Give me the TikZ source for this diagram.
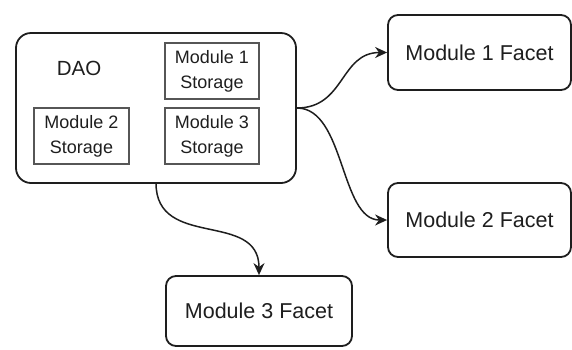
\documentclass[tikz,border=0pt]{standalone}
\usepackage{fontspec}
\setmainfont{Liberation Sans}
\usetikzlibrary{arrows.meta}
\definecolor{ink}{HTML}{1E1E1E}
\tikzset{
  bigbox/.style={draw=ink, line width=1.8pt, rounded corners=10pt, minimum width=183pt, minimum height=75pt, font=\fontsize{21.5}{24}\selectfont, text=ink},
  storebox/.style={draw=ink!75, line width=1.2pt, minimum width=94pt, minimum height=56pt, align=center, font=\fontsize{18}{25}\selectfont, text=ink},
  conn/.style={draw=ink, line width=1.5pt, -{Stealth[length=12pt,width=11pt]}}
}
\begin{document}
\begin{tikzpicture}[x=1pt,y=-1pt]
\useasboundingbox (0,0) rectangle (572,349);
\node[draw=ink, line width=1.8pt, rounded corners=15pt, minimum width=280pt, minimum height=150pt] (dao) at (156,108) {};
\node[font=\fontsize{20.5}{24}\selectfont, text=ink] (daolbl) at (79,68) {DAO};
\node[storebox] (s1) at (212,71) {Module 1\\Storage};
\node[storebox, minimum width=95pt] (s2) at (81.5,136) {Module 2\\Storage};
\node[storebox] (s3) at (212,136) {Module 3\\Storage};
\node[bigbox] (f1) at (479.5,52.5) {Module 1 Facet};
\node[bigbox, minimum height=74pt] (f2) at (479.5,220) {Module 2 Facet};
\node[bigbox, minimum width=186pt, minimum height=70pt] (f3) at (259,311) {Module 3 Facet};
\coordinate (d3) at (156,183);
\draw[conn] (dao.east) .. controls (345,108) and (340,52.5) .. (f1.west);
\draw[conn] (dao.east) .. controls (345,108) and (340,220) .. (f2.west);
\draw[conn] (d3) .. controls (156,250) and (259,210) .. (f3.north);
\end{tikzpicture}
\end{document}
